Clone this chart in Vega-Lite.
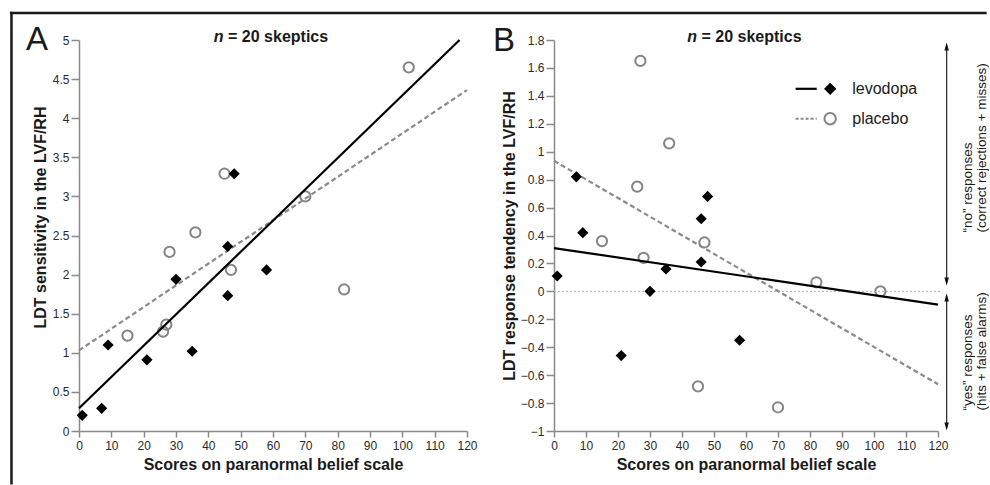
{
  "$schema": "https://vega.github.io/schema/vega-lite/v6.json",
  "padding": {"left": 8, "top": 10, "right": 0, "bottom": 0},
  "bounds": "flush",
  "spacing": 87,
  "background": "white",
  "config": {
    "view": {"stroke": null},
    "font": "Liberation Sans",
    "axis": {
      "grid": false,
      "domainColor": "#8a8a8a",
      "domainWidth": 1.5,
      "tickColor": "#8a8a8a",
      "tickWidth": 1.5,
      "labelColor": "#2a2a2a",
      "labelFontSize": 12,
      "labelFont": "Liberation Sans",
      "labelOverlap": false,
      "titleFont": "Liberation Sans",
      "titleFontSize": 16,
      "titleFontWeight": "bold",
      "titleColor": "#1a1a1a"
    }
  },
  "datasets": {
    "ptsA": [
      {"g": "levodopa", "x": 1, "y": 0.2},
      {"g": "levodopa", "x": 7, "y": 0.29},
      {"g": "levodopa", "x": 9, "y": 1.1},
      {"g": "levodopa", "x": 21, "y": 0.91},
      {"g": "levodopa", "x": 30, "y": 1.94},
      {"g": "levodopa", "x": 35, "y": 1.02},
      {"g": "levodopa", "x": 46, "y": 2.36},
      {"g": "levodopa", "x": 46, "y": 1.73},
      {"g": "levodopa", "x": 48, "y": 3.29},
      {"g": "levodopa", "x": 58, "y": 2.06},
      {"g": "placebo", "x": 15, "y": 1.22},
      {"g": "placebo", "x": 26, "y": 1.27},
      {"g": "placebo", "x": 27, "y": 1.36},
      {"g": "placebo", "x": 28, "y": 2.29},
      {"g": "placebo", "x": 36, "y": 2.54},
      {"g": "placebo", "x": 45, "y": 3.29},
      {"g": "placebo", "x": 47, "y": 2.06},
      {"g": "placebo", "x": 70, "y": 3.0},
      {"g": "placebo", "x": 82, "y": 1.81},
      {"g": "placebo", "x": 102, "y": 4.65}
    ],
    "ptsB": [
      {"g": "levodopa", "x": 1, "y": 0.11},
      {"g": "levodopa", "x": 7, "y": 0.82},
      {"g": "levodopa", "x": 9, "y": 0.42},
      {"g": "levodopa", "x": 21, "y": -0.46},
      {"g": "levodopa", "x": 30, "y": 0.0},
      {"g": "levodopa", "x": 35, "y": 0.16},
      {"g": "levodopa", "x": 46, "y": 0.21},
      {"g": "levodopa", "x": 46, "y": 0.52},
      {"g": "levodopa", "x": 48, "y": 0.68},
      {"g": "levodopa", "x": 58, "y": -0.35},
      {"g": "placebo", "x": 15, "y": 0.36},
      {"g": "placebo", "x": 26, "y": 0.75},
      {"g": "placebo", "x": 27, "y": 1.65},
      {"g": "placebo", "x": 28, "y": 0.24},
      {"g": "placebo", "x": 36, "y": 1.06},
      {"g": "placebo", "x": 45, "y": -0.68},
      {"g": "placebo", "x": 47, "y": 0.35},
      {"g": "placebo", "x": 70, "y": -0.83},
      {"g": "placebo", "x": 82, "y": 0.065},
      {"g": "placebo", "x": 102, "y": 0.0}
    ],
    "linesA": [
      {"g": "levodopa", "x": 0, "y": 0.29},
      {"g": "levodopa", "x": 117.7, "y": 5.0},
      {"g": "placebo", "x": 0, "y": 1.03},
      {"g": "placebo", "x": 120, "y": 4.36}
    ],
    "linesB": [
      {"g": "levodopa", "x": 0, "y": 0.31},
      {"g": "levodopa", "x": 120, "y": -0.095},
      {"g": "placebo", "x": 0, "y": 0.935},
      {"g": "placebo", "x": 120, "y": -0.665}
    ]
  },
  "hconcat": [
    {
      "width": 388,
      "height": 391,
      "layer": [
        {
          "data": {"name": "ptsA"},
          "transform": [{"filter": "datum.g === 'placebo'"}],
          "mark": {"type": "point", "shape": "circle", "filled": false, "stroke": "#858585", "strokeWidth": 2, "size": 105, "opacity": 1},
          "encoding": {
            "x": {"field": "x", "type": "quantitative", "scale": {"domain": [0, 120], "nice": false, "zero": false},
              "axis": {"values": [0, 10, 20, 30, 40, 50, 60, 70, 80, 90, 100, 110, 120], "tickCount": 50, "labelFlush": false, "labelOverlap": false, "labelFontSize": 12, "tickSize": 6, "labelPadding": 3, "titlePadding": 5, "title": "Scores on paranormal belief scale"}},
            "y": {"field": "y", "type": "quantitative", "scale": {"domain": [0, 5], "nice": false, "zero": false},
              "axis": {"values": [0, 0.5, 1, 1.5, 2, 2.5, 3, 3.5, 4, 4.5, 5], "tickCount": 50, "format": "~g", "labelOverlap": false, "labelFontSize": 12, "tickSize": 8, "labelPadding": 2, "titlePadding": 4, "title": "LDT sensitivity in the LVF/RH", "titleY": 177}}
          }
        },
        {
          "data": {"name": "linesA"},
          "transform": [{"filter": "datum.g === 'placebo'"}],
          "mark": {"type": "line", "color": "#8a8a8a", "strokeWidth": 2.2, "strokeDash": [5, 3]},
          "encoding": {"x": {"field": "x", "type": "quantitative"}, "y": {"field": "y", "type": "quantitative"}}
        },
        {
          "data": {"name": "linesA"},
          "transform": [{"filter": "datum.g === 'levodopa'"}],
          "mark": {"type": "line", "color": "#000000", "strokeWidth": 2.2},
          "encoding": {"x": {"field": "x", "type": "quantitative"}, "y": {"field": "y", "type": "quantitative"}}
        },
        {
          "data": {"name": "ptsA"},
          "transform": [{"filter": "datum.g === 'levodopa'"}],
          "mark": {"type": "point", "shape": "diamond", "filled": true, "color": "#000000", "size": 125, "opacity": 1},
          "encoding": {"x": {"field": "x", "type": "quantitative"}, "y": {"field": "y", "type": "quantitative"}}
        },
        {
          "data": {"values": [{}]},
          "mark": {"type": "rule", "color": "#1a1a1a", "strokeWidth": 2.5, "strokeCap": "butt"},
          "encoding": {"x": {"datum": -20.88}, "y": {"datum": 5.361}, "y2": {"datum": -0.684}}
        },
        {
          "data": {"values": [{}]},
          "mark": {"type": "text", "text": "A", "fontSize": 33, "color": "#1a1a1a", "align": "center", "baseline": "middle"},
          "encoding": {"x": {"datum": -13}, "y": {"datum": 5.0}}
        },
        {
          "data": {"values": [{}]},
          "mark": {"type": "text", "text": "n", "fontSize": 16, "fontWeight": "bold", "fontStyle": "italic", "color": "#1a1a1a", "align": "right", "baseline": "middle"},
          "encoding": {"x": {"datum": 44.7}, "y": {"datum": 5.032}}
        },
        {
          "data": {"values": [{}]},
          "mark": {"type": "text", "text": "= 20 skeptics", "fontSize": 16, "fontWeight": "bold", "color": "#1a1a1a", "align": "left", "baseline": "middle"},
          "encoding": {"x": {"datum": 46.1}, "y": {"datum": 5.032}}
        }
      ]
    },
    {
      "width": 384,
      "height": 391,
      "layer": [
        {
          "data": {"name": "ptsB"},
          "transform": [{"filter": "datum.g === 'placebo'"}],
          "mark": {"type": "point", "shape": "circle", "filled": false, "stroke": "#858585", "strokeWidth": 2, "size": 105, "opacity": 1},
          "encoding": {
            "x": {"field": "x", "type": "quantitative", "scale": {"domain": [0, 120], "nice": false, "zero": false},
              "axis": {"values": [0, 10, 20, 30, 40, 50, 60, 70, 80, 90, 100, 110, 120], "tickCount": 50, "labelFlush": false, "labelOverlap": false, "labelFontSize": 12, "tickSize": 6, "labelPadding": 3, "titlePadding": 5, "title": "Scores on paranormal belief scale"}},
            "y": {"field": "y", "type": "quantitative", "scale": {"domain": [-1, 1.8], "nice": false, "zero": false},
              "axis": {"values": [-1, -0.8, -0.6, -0.4, -0.2, 0, 0.2, 0.4, 0.6, 0.8, 1, 1.2, 1.4, 1.6, 1.8], "tickCount": 50, "format": "~g", "labelOverlap": false, "labelFontSize": 12, "tickSize": 8, "labelPadding": 2, "titlePadding": 3, "title": "LDT response tendency in the LVF/RH"}}
          }
        },
        {
          "data": {"values": [{}]},
          "mark": {"type": "rule", "color": "#b0b0b0", "strokeWidth": 1, "strokeDash": [2, 2]},
          "encoding": {"x": {"datum": 0}, "x2": {"datum": 121}, "y": {"datum": 0}}
        },
        {
          "data": {"name": "linesB"},
          "transform": [{"filter": "datum.g === 'placebo'"}],
          "mark": {"type": "line", "color": "#8a8a8a", "strokeWidth": 2.2, "strokeDash": [5, 3]},
          "encoding": {"x": {"field": "x", "type": "quantitative"}, "y": {"field": "y", "type": "quantitative"}}
        },
        {
          "data": {"name": "linesB"},
          "transform": [{"filter": "datum.g === 'levodopa'"}],
          "mark": {"type": "line", "color": "#000000", "strokeWidth": 2.2},
          "encoding": {"x": {"field": "x", "type": "quantitative"}, "y": {"field": "y", "type": "quantitative"}}
        },
        {
          "data": {"name": "ptsB"},
          "transform": [{"filter": "datum.g === 'levodopa'"}],
          "mark": {"type": "point", "shape": "diamond", "filled": true, "color": "#000000", "size": 125, "opacity": 1},
          "encoding": {"x": {"field": "x", "type": "quantitative"}, "y": {"field": "y", "type": "quantitative"}}
        },
        {
          "data": {"values": [{}]},
          "mark": {"type": "rule", "color": "#1a1a1a", "strokeWidth": 2.5, "strokeCap": "butt"},
          "encoding": {"x": {"datum": -170.02}, "x2": {"datum": 135.2}, "y": {"datum": 1.9934}}
        },
        {
          "data": {"values": [{}]},
          "mark": {"type": "rule", "color": "#000000", "strokeWidth": 2.2},
          "encoding": {"x": {"datum": 75.5}, "x2": {"datum": 82.1}, "y": {"datum": 1.4505}}
        },
        {
          "data": {"values": [{}]},
          "mark": {"type": "rule", "color": "#8a8a8a", "strokeWidth": 2, "strokeDash": [3, 2]},
          "encoding": {"x": {"datum": 75.5}, "x2": {"datum": 82.1}, "y": {"datum": 1.2357}}
        },
        {
          "data": {"values": [{}]},
          "mark": {"type": "point", "shape": "diamond", "filled": true, "color": "#000000", "size": 150, "opacity": 1},
          "encoding": {"x": {"datum": 86.3}, "y": {"datum": 1.4505}}
        },
        {
          "data": {"values": [{}]},
          "mark": {"type": "point", "shape": "circle", "filled": false, "stroke": "#858585", "strokeWidth": 2, "size": 130, "opacity": 1},
          "encoding": {"x": {"datum": 86.3}, "y": {"datum": 1.2357}}
        },
        {
          "data": {"values": [{}]},
          "mark": {"type": "text", "text": "levodopa", "fontSize": 16, "color": "#1a1a1a", "align": "left", "baseline": "middle"},
          "encoding": {"x": {"datum": 93.2}, "y": {"datum": 1.4505}}
        },
        {
          "data": {"values": [{}]},
          "mark": {"type": "text", "text": "placebo", "fontSize": 16, "color": "#1a1a1a", "align": "left", "baseline": "middle"},
          "encoding": {"x": {"datum": 93.2}, "y": {"datum": 1.2357}}
        },
        {
          "data": {"values": [{}]},
          "mark": {"type": "rule", "color": "#333333", "strokeWidth": 1.3},
          "encoding": {"x": {"datum": 122.7}, "y": {"datum": 1.76}, "y2": {"datum": 0.06}}
        },
        {
          "data": {"values": [{}]},
          "mark": {"type": "rule", "color": "#333333", "strokeWidth": 1.3},
          "encoding": {"x": {"datum": 122.7}, "y": {"datum": -0.035}, "y2": {"datum": -0.975}}
        },
        {
          "data": {"values": [{}]},
          "mark": {"type": "point", "shape": "M0,-1L0.45,0.6L-0.45,0.6Z", "filled": true, "color": "#111111", "size": 100, "opacity": 1},
          "encoding": {"x": {"datum": 122.7}, "y": {"datum": 1.746}}
        },
        {
          "data": {"values": [{}]},
          "mark": {"type": "point", "shape": "M0,1L0.45,-0.6L-0.45,-0.6Z", "filled": true, "color": "#111111", "size": 100, "opacity": 1},
          "encoding": {"x": {"datum": 122.7}, "y": {"datum": 0.0777}}
        },
        {
          "data": {"values": [{}]},
          "mark": {"type": "point", "shape": "M0,-1L0.45,0.6L-0.45,0.6Z", "filled": true, "color": "#111111", "size": 100, "opacity": 1},
          "encoding": {"x": {"datum": 122.7}, "y": {"datum": -0.0512}}
        },
        {
          "data": {"values": [{}]},
          "mark": {"type": "point", "shape": "M0,1L0.45,-0.6L-0.45,-0.6Z", "filled": true, "color": "#111111", "size": 100, "opacity": 1},
          "encoding": {"x": {"datum": 122.7}, "y": {"datum": -0.9607}}
        },
        {
          "data": {"values": [{}]},
          "mark": {"type": "text", "text": "“no” responses", "fontSize": 13.5, "angle": 270, "color": "#1a1a1a", "align": "left", "baseline": "middle"},
          "encoding": {"x": {"datum": 129.3}, "y": {"datum": 0.4215}}
        },
        {
          "data": {"values": [{}]},
          "mark": {"type": "text", "text": "(correct rejections + misses)", "fontSize": 13.5, "angle": 270, "color": "#1a1a1a", "align": "left", "baseline": "middle"},
          "encoding": {"x": {"datum": 133.7}, "y": {"datum": 0.4215}}
        },
        {
          "data": {"values": [{}]},
          "mark": {"type": "text", "text": "“yes” responses", "fontSize": 13.5, "angle": 270, "color": "#1a1a1a", "align": "left", "baseline": "middle"},
          "encoding": {"x": {"datum": 129.3}, "y": {"datum": -0.853}}
        },
        {
          "data": {"values": [{}]},
          "mark": {"type": "text", "text": "(hits + false alarms)", "fontSize": 13.5, "angle": 270, "color": "#1a1a1a", "align": "left", "baseline": "middle"},
          "encoding": {"x": {"datum": 133.7}, "y": {"datum": -0.853}}
        },
        {
          "data": {"values": [{}]},
          "mark": {"type": "text", "text": "B", "fontSize": 33, "color": "#1a1a1a", "align": "center", "baseline": "middle"},
          "encoding": {"x": {"datum": -15.6}, "y": {"datum": 1.79}}
        },
        {
          "data": {"values": [{}]},
          "mark": {"type": "text", "text": "n", "fontSize": 16, "fontWeight": "bold", "fontStyle": "italic", "color": "#1a1a1a", "align": "right", "baseline": "middle"},
          "encoding": {"x": {"datum": 44.7}, "y": {"datum": 1.818}}
        },
        {
          "data": {"values": [{}]},
          "mark": {"type": "text", "text": "= 20 skeptics", "fontSize": 16, "fontWeight": "bold", "color": "#1a1a1a", "align": "left", "baseline": "middle"},
          "encoding": {"x": {"datum": 46.1}, "y": {"datum": 1.818}}
        }
      ]
    }
  ]
}
